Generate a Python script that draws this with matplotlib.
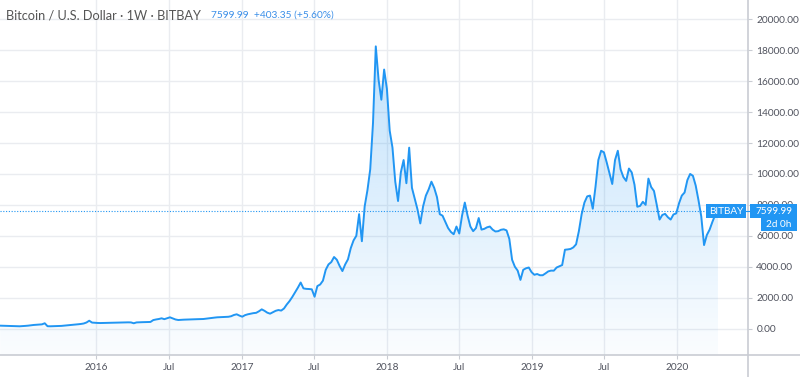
import numpy as np
import pandas as pd
import matplotlib
matplotlib.use('Agg')
import matplotlib.pyplot as plt
import matplotlib.dates as mdates
from matplotlib.patches import Polygon, Rectangle
from matplotlib.lines import Line2D

# weekly closes BTC/USD on BITBAY (one list per year)
first_week = '2015-05-04'
close_2015 = [190, 185, 180, 175, 170, 165, 160, 150, 160, 175, 190, 215, 235, 250, 260, 275, 345, 155,
              150, 155, 160, 165, 175, 190, 210, 230, 245, 260, 280, 300, 330, 395, 510, 390, 375]
close_2016 = [365, 360, 365, 370, 372, 378, 380, 385, 390, 395, 400, 405, 400, 345, 400, 410, 415, 420,
              425, 430, 550, 590, 620, 665, 610, 670, 730, 660, 590, 555, 570, 578, 585, 590, 598, 605,
              610, 612, 620, 640, 665, 690, 710, 730, 740, 750, 755, 765, 800, 880, 925, 840]
close_2017 = [770, 870, 925, 960, 1000, 1020, 1120, 1245, 1150, 1030, 965, 1060, 1150, 1200, 1165, 1300,
              1560, 1780, 2050, 2350, 2650, 2980, 2600, 2570, 2560, 2540, 2060, 2750, 2850, 3100, 3800,
              4150, 4300, 4630, 4450, 4050, 3720, 4150, 4480, 5200, 5700, 6000, 7400, 5650, 7900, 8950,
              10300, 13300, 18250, 16100, 14800, 16750]
close_2018 = [15500, 12800, 11700, 9500, 8250, 10100, 10900, 9400, 11700, 9100, 8400, 7700, 6800, 7900,
              8600, 9000, 9500, 9100, 8500, 7400, 7300, 6900, 6500, 6250, 6100, 6600, 6150, 7300, 8150,
              7300, 6600, 6300, 6500, 7150, 6400, 6450, 6550, 6600, 6400, 6280, 6300, 6390, 6420, 6350,
              5800, 4450, 4000, 3750, 3150, 3800, 3900, 3950, 3650]
close_2019 = [3480, 3530, 3450, 3450, 3570, 3700, 3750, 3745, 3950, 4030, 4110, 5100, 5120, 5150, 5250,
              5450, 6300, 7400, 8150, 8550, 8600, 7750, 9200, 10900, 11500, 11400, 10750, 10040, 9350,
              10900, 11500, 10300, 9800, 9550, 10350, 10100, 9300, 7880, 7930, 8200, 8000, 9700, 9150,
              8900, 8000, 7050, 7350, 7420, 7200, 7050, 7380, 7450]
close_2020 = [8100, 8600, 8800, 9600, 10000, 9880, 9250, 8300, 7250, 5400, 6050, 6400, 6900, 7350, 7599.99]

last_price = 7599.99
change = 403.35
change_pct = 5.60
price_ticks = list(range(0, 20001, 2000))
time_ticks = ['2016-01-01', '2016-07-01', '2017-01-01', '2017-07-01', '2018-01-01',
              '2018-07-01', '2019-01-01', '2019-07-01', '2020-01-01']
time_labels = ['2016', 'Jul', '2017', 'Jul', '2018', 'Jul', '2019', 'Jul', '2020']

close = np.array(close_2015 + close_2016 + close_2017 + close_2018 + close_2019 + close_2020)
weeks = pd.date_range(first_week, periods=len(close), freq='W-MON')

BLUE = '#2196f3'
GRID = '#eaecf0'
BORDER = '#c9ccd3'
TEXT = '#50535e'
plt.rcParams['font.family'] = ['Lato', 'DejaVu Sans']

W, H = 800, 377
fig = plt.figure(figsize=(W / 100, H / 100), dpi=100)
fig.patch.set_facecolor('white')
ax = fig.add_axes([0, 22 / H, 748 / W, 355 / H])

xnum = mdates.date2num(weeks)
x0 = mdates.date2num(pd.Timestamp('2015-05-03 10:00'))
x1 = mdates.date2num(pd.Timestamp('2020-06-27 14:00'))
ymin, ymax = -1707, 21248
ax.set_xlim(x0, x1)
ax.set_ylim(ymin, ymax)

# gradient area under the line
verts = np.column_stack([np.r_[xnum, xnum[-1], xnum[0]], np.r_[close, ymin, ymin]])
clip = Polygon(verts, closed=True, facecolor='none', edgecolor='none')
ax.add_patch(clip)
alpha = np.linspace(0.02, 0.28, 256).reshape(-1, 1)
rgba = np.zeros((256, 1, 4))
rgba[..., 0], rgba[..., 1], rgba[..., 2] = 33 / 255, 150 / 255, 243 / 255
rgba[..., 3] = alpha
im = ax.imshow(rgba, extent=[xnum[0], xnum[-1], ymin, close.max()], origin='lower',
               aspect='auto', zorder=1, interpolation='bilinear')
im.set_clip_path(clip)

ax.plot(xnum, close, color=BLUE, lw=1.4, zorder=3, solid_joinstyle='round')
ax.axhline(last_price, color=BLUE, lw=0.8, ls=(0, (1, 1.5)), zorder=2)

ax.set_yticks(price_ticks)
ax.set_yticklabels(['%.2f' % v for v in price_ticks])
ax.set_xticks(mdates.date2num(pd.to_datetime(time_ticks)))
ax.set_xticklabels(time_labels)
ax.yaxis.tick_right()
ax.grid(True, color=GRID, lw=1)
ax.set_axisbelow(True)
for s in ax.spines.values():
    s.set_visible(False)
ax.tick_params(axis='y', length=3, width=0.8, color=BORDER, pad=3, labelsize=7.3, labelcolor=TEXT)
ax.tick_params(axis='x', length=3, width=0.8, color=BORDER, pad=3, labelsize=7.3, labelcolor=TEXT)

# scale borders
fig.add_artist(Line2D([0, 1], [1 - 355 / H, 1 - 355 / H], color=BORDER, lw=1.2))
fig.add_artist(Line2D([748 / W, 748 / W], [0, 1], color=BORDER, lw=1.2))

# header
fig.text(6 / W, 1 - 15 / H, 'Bitcoin / U.S. Dollar · 1W · BITBAY', color='#555555',
         fontsize=9.2, va='center', ha='left')
fig.text(211 / W, 1 - 15 / H, '%.2f  +%.2f (+%.2f%%)' % (last_price, change, change_pct),
         color='#3a8ee8', fontsize=7.3, va='center', ha='left')

# last price labels
fig.canvas.draw()
yc = ax.transData.transform((x0, last_price))[1]
def box(left, right, ymid, h, txt):
    fig.add_artist(Rectangle((left / W, (ymid - h / 2) / H), (right - left) / W, h / H,
                             facecolor=BLUE, edgecolor='none', zorder=5))
    fig.text((left + right) / 2 / W, ymid / H, txt, color='white', fontsize=7.2,
             ha='center', va='center', zorder=6)

box(706, 746, yc, 14, 'BITBAY')
box(750, 797, yc, 14, '%.2f' % last_price)
box(761, 797, yc - 13.5, 13, '2d 0h')
fig.add_artist(Line2D([746 / W, 750 / W], [yc / H, yc / H], color=BLUE, lw=0.8, zorder=5))

fig.savefig('out.png', dpi=100, facecolor='white')
